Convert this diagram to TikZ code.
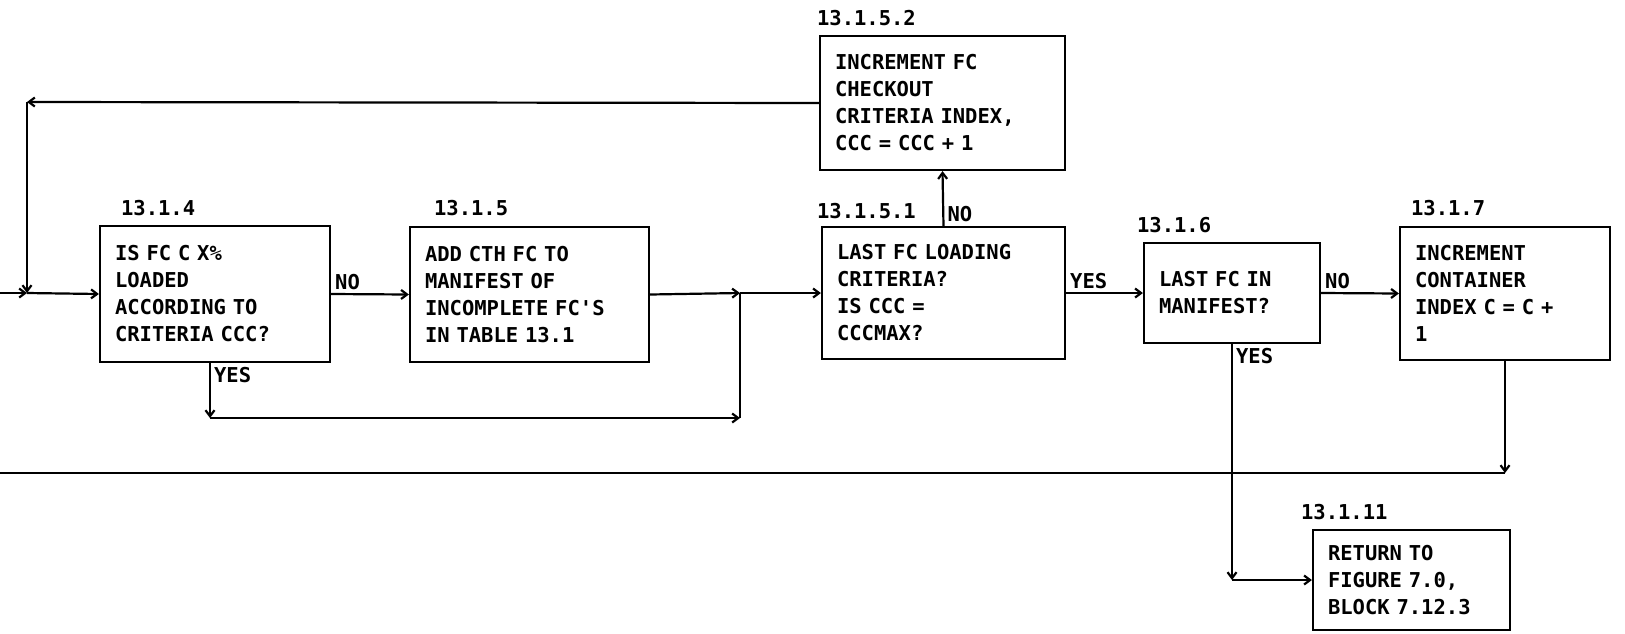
\documentclass[tikz,border=0pt]{standalone}
\usepackage{fontspec}
\newfontfamily\dotmono{DejaVu Sans Mono}
\usetikzlibrary{arrows.meta}

\begin{document}
\begin{tikzpicture}[x=1pt, y=-1pt, >={Straight Barb[length=6pt,width=9pt]}, line width=2.2pt,
        every node/.style={font=\dotmono\bfseries\fontsize{20.5}{27}\selectfont},
        blk/.style={draw, inner xsep=15pt, inner ysep=0pt, align=left},
        num/.style={anchor=west, inner sep=0pt},
        ans/.style={inner sep=3pt}]
        \useasboundingbox (0,0) rectangle (1625,633);
        \node[blk, text width=200pt, minimum height=136pt] (b134) at (215,294) {IS FC C X\%\\LOADED\\ACCORDING TO\\CRITERIA CCC?};
        \node[blk, text width=209pt, minimum height=135pt] (b135) at (529.5,294.5) {ADD CTH FC TO\\MANIFEST OF\\INCOMPLETE FC'S\\IN TABLE 13.1};
        \node[blk, text width=213pt, minimum height=132pt] (b1351) at (943.5,293) {LAST FC LOADING\\CRITERIA?\\IS CCC =\\CCCMAX?};
        \node[blk, text width=215pt, minimum height=134pt] (b1352) at (942.5,103) {INCREMENT FC\\CHECKOUT\\CRITERIA INDEX,\\CCC = CCC + 1};
        \node[blk, text width=146pt, minimum height=100pt] (b136) at (1232,293) {LAST FC IN\\MANIFEST?};
        \node[blk, text width=180pt, minimum height=133pt] (b137) at (1505,293.5) {INCREMENT\\CONTAINER\\INDEX C = C +\\1};
        \node[blk, text width=167pt, minimum height=100pt] (b1311) at (1411.5,580) {RETURN TO\\FIGURE 7.0,\\BLOCK 7.12.3};
        \node[num] (n134) at (120,208) {13.1.4};
        \node[num] (n135) at (433,208) {13.1.5};
        \node[num] (n1351) at (816,211) {13.1.5.1};
        \node[num] (n1352) at (816,18) {13.1.5.2};
        \node[num] (n136) at (1136,225) {13.1.6};
        \node[num] (n137) at (1410,208) {13.1.7};
        \node[num] (n1311) at (1300,512) {13.1.11};
        \coordinate (in) at (0,293);
        \coordinate (j0) at (27,293);
        \coordinate (c1) at (27,102);
        \coordinate (c2) at (210,418);
        \coordinate (j1) at (740,293);
        \coordinate (j2) at (740,418);
        \coordinate (c3) at (1505,473);
        \coordinate (out) at (0,473);
        \coordinate (c4) at (1232,580);
        \draw[->] (in) -- (j0);
        \draw[->] (j0) -- (b134.west);
        \draw[->] (b1352.west) -- (c1);
        \draw[->] (c1) -- (j0);
        \draw[->] (b134.east) -- node[ans, pos=0, anchor=south west] {NO} (b135.west);
        \draw[->] (c2 |- b134.south) -- node[ans, pos=0, anchor=north west] {YES} (c2);
        \draw[->] (c2) -- (j2);
        \draw (j2) -- (j1);
        \draw[->] (b135.east) -- (j1);
        \draw[->] (j1) -- (b1351.west);
        \draw[->] (b1351.north) -- node[ans, pos=0, anchor=south west] {NO} (b1352.south);
        \draw[->] (b1351.east) -- node[ans, pos=0, anchor=south west] {YES} (b136.west);
        \draw[->] (b136.east) -- node[ans, pos=0, anchor=south west] {NO} (b137.west);
        \draw[->] (b137.south) -- (c3);
        \draw (c3) -- (out);
        \draw[->] (b136.south) -- node[ans, pos=0, anchor=north west] {YES} (c4);
        \draw[->] (c4) -- (b1311.west);
    \end{tikzpicture}
\end{document}
